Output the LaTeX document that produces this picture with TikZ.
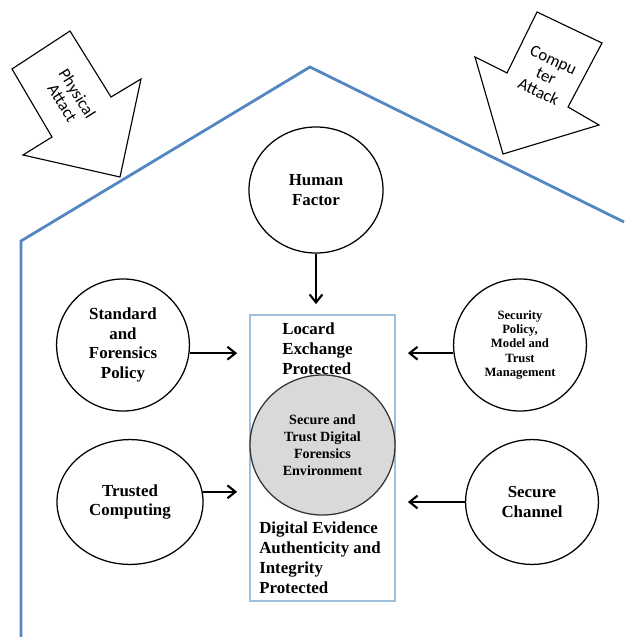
\documentclass[tikz,border=0pt]{standalone}
\usepackage{fontspec}
\setmainfont{Liberation Serif}
\newfontfamily\attackfont{Carlito}
\usepackage{tikz}
\usetikzlibrary{
  arrows.meta,
  positioning,
  calc,
  shapes.geometric
}
\definecolor{HouseBlue}{RGB}{84,134,194}
\definecolor{BoxBlue}{RGB}{160,190,222}
\definecolor{EnvGray}{RGB}{217,217,217}
\tikzset{
  factor/.style={ellipse,draw=black,line width=0.9pt,inner sep=0pt,align=center,font=\bfseries\fontsize{12}{14}\selectfont},
  envnode/.style={ellipse,draw=black!80,fill=EnvGray,line width=0.9pt,inner sep=0pt,align=center,font=\bfseries\fontsize{10}{12}\selectfont},
  evidencebox/.style={draw=BoxBlue,line width=1.2pt,minimum width=3.625cm,minimum height=7.15cm},
  boxtext/.style={anchor=north west,inner sep=0pt,align=left,font=\bfseries\fontsize{12}{14}\selectfont},
  attack/.style={draw=black,line width=0.8pt,fill=white,line join=miter},
  attacktext/.style={align=center,inner sep=0pt,font=\attackfont\fontsize{12}{12.5}\selectfont},
  house/.style={draw=HouseBlue,line width=2pt,line join=miter},
  flowarrow/.style={-{Straight Barb[length=2mm,width=3.2mm]},line width=1.5pt,draw=black}
}
\begin{document}
\begin{tikzpicture}[x=0.025cm,y=-0.025cm]
\useasboundingbox (0,0) rectangle (624,637);
\draw[house] (21,637) -- (21,241) -- (310,67) -- (624,222);

\draw[attack] (12,69) -- (70,31) -- (111,97) -- (141,79) -- (120,177) -- (23,155) -- (52,137) -- cycle;
\node[attacktext, rotate=-58] (pa) at (70,98) {Physical\\Attact};
\draw[attack] (537,12) -- (602,43) -- (568,107) -- (599,125) -- (503,154) -- (475,57) -- (507,73) -- cycle;
\node[attacktext, rotate=-25] (ca) at (546,76) {Compu\\ter\\Attack};

\node[evidencebox] (box) at (322.5,458) {};
\node[boxtext] (locard) at (282,323) {Locard\\Exchange\\Protected};
\node[envnode, minimum width=3.625cm, minimum height=3.5cm] (env) at (322.5,445) {Secure and\\Trust Digital\\Forensics\\Environment};
\node[boxtext] (dig) at (259,522) {Digital Evidence\\Authenticity and\\Integrity\\Protected};

\node[factor, minimum width=3.35cm, minimum height=3.15cm] (hf) at (316,190) {Human\\Factor};
\node[factor, minimum width=3.32cm, minimum height=3.3cm] (std) at (123,345) {Standard\\and\\Forensics\\Policy};
\node[factor, minimum width=3.32cm, minimum height=3.3cm, font=\bfseries\fontsize{9}{10}\selectfont] (sec) at (520,345) {Security\\Policy,\\Model and\\Trust\\Management};
\node[factor, minimum width=3.65cm, minimum height=3.12cm] (tc) at (130,502) {Trusted\\Computing};
\node[factor, minimum width=3.32cm, minimum height=3.12cm] (sc) at (532,502) {Secure\\Channel};

\draw[flowarrow, shorten >=2.5mm] (hf.south) -- (hf.south |- box.north);
\draw[flowarrow, shorten >=3mm] (std.-7) -- (std.-7 -| box.west);
\draw[flowarrow, shorten >=3mm] (sec.187) -- (sec.187 -| box.east);
\draw[flowarrow, shorten >=3mm] (tc.8) -- (tc.8 -| box.west);
\draw[flowarrow, shorten >=3mm] (sc.west) -- (sc.west -| box.east);
\end{tikzpicture}
\end{document}
